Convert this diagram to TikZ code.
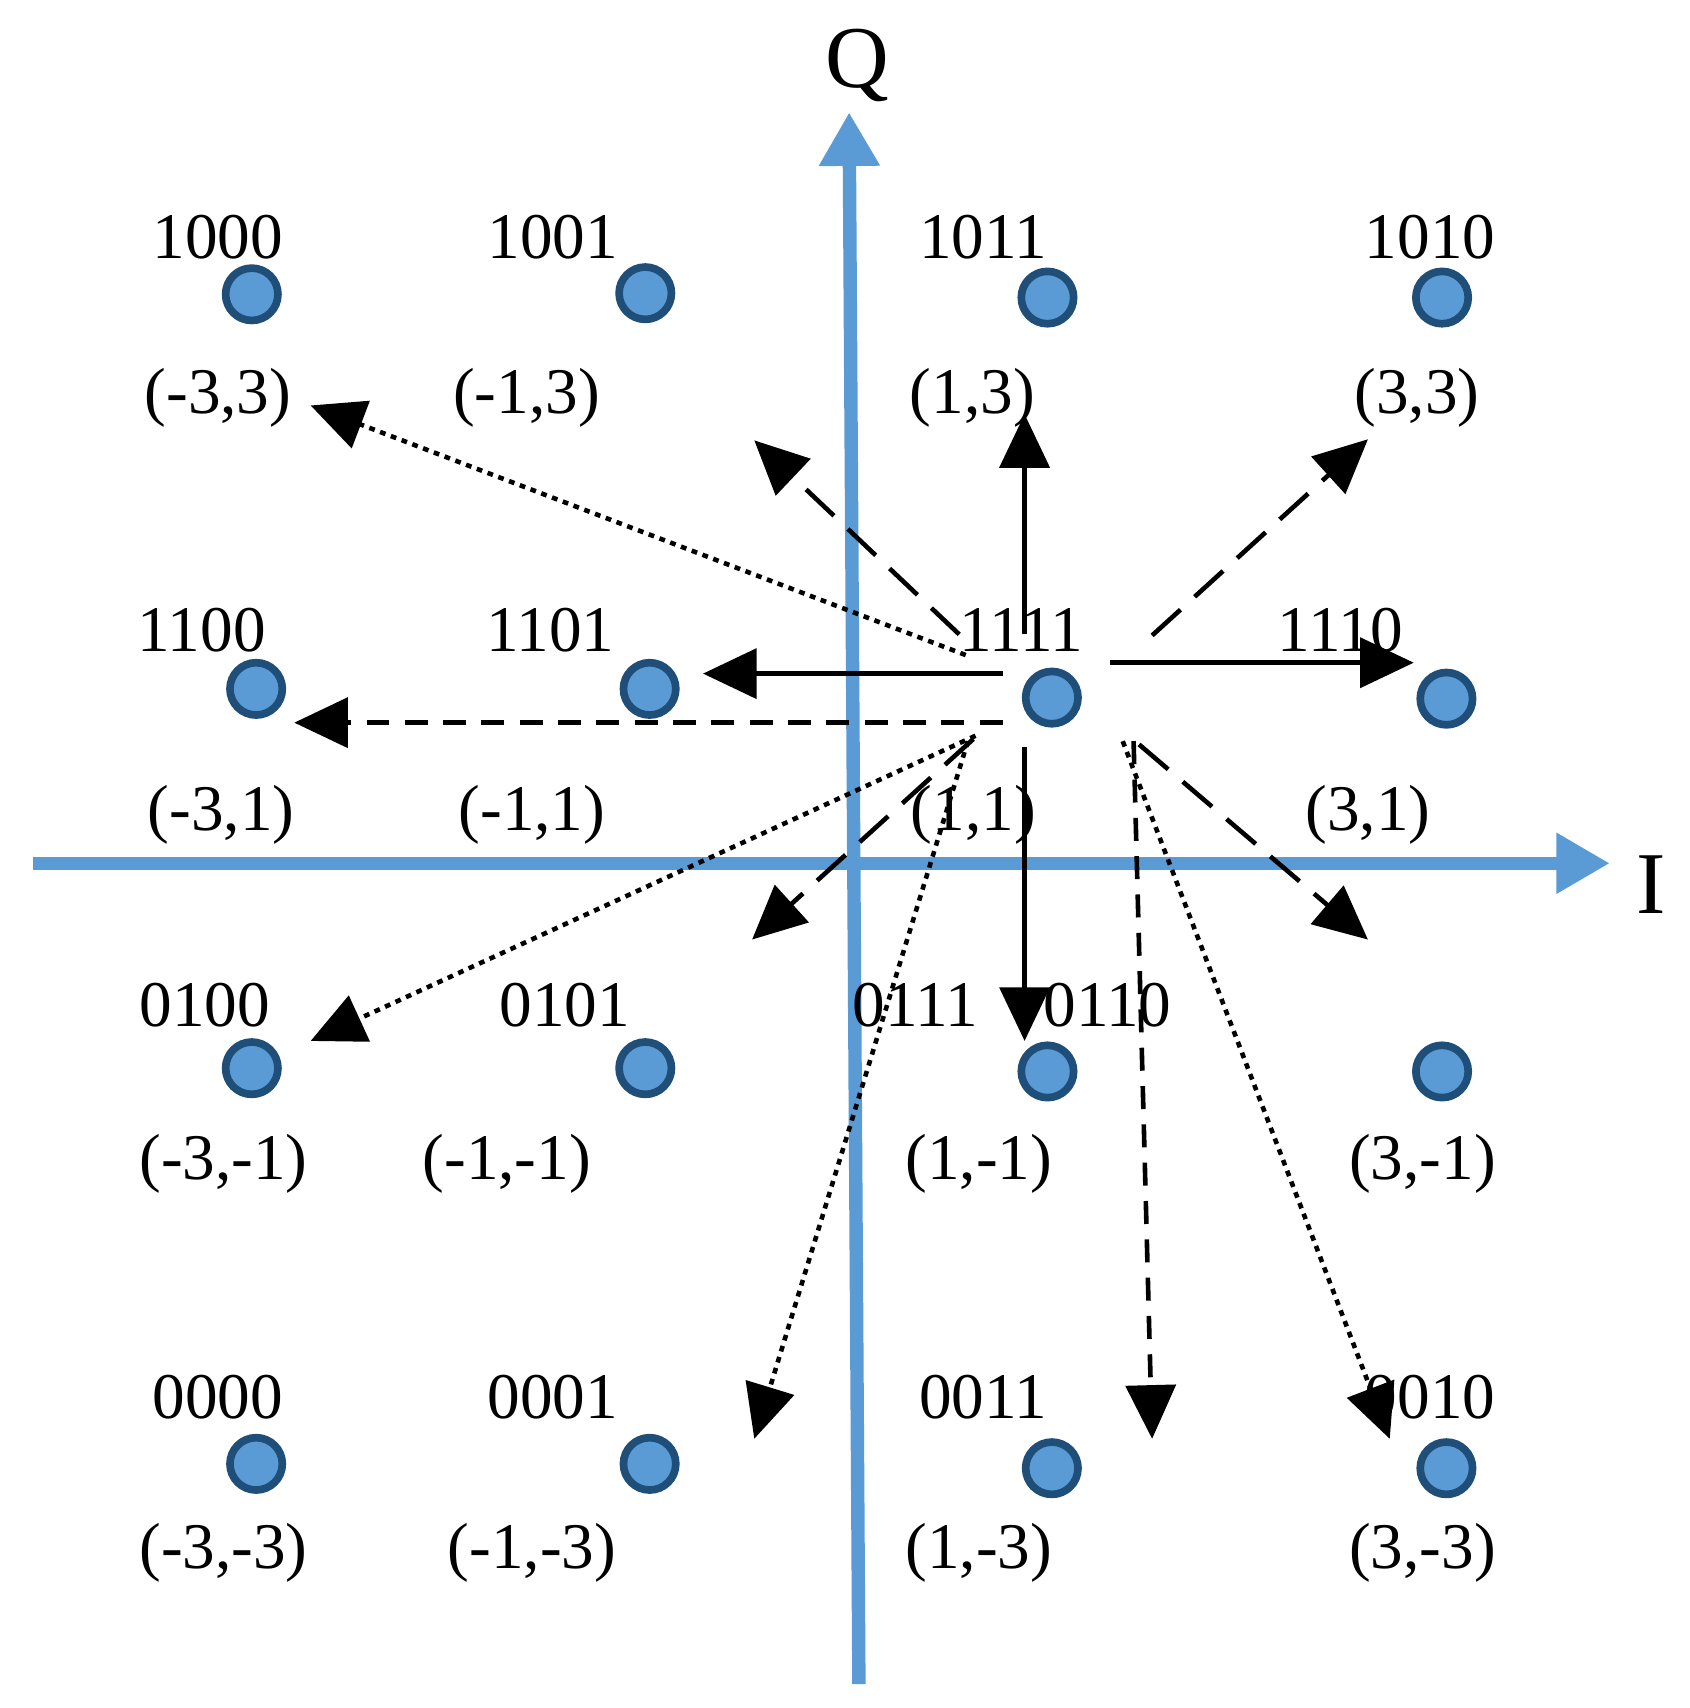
\documentclass[tikz,border=0pt]{standalone}
\usepackage{fontspec}
\setmainfont{Liberation Serif}
\usetikzlibrary{arrows.meta}
\definecolor{ax}{HTML}{5B9BD5}
\definecolor{dk}{HTML}{1F4E79}
\begin{document}
\begin{tikzpicture}[x=0.01cm,y=-0.01cm,
  pt/.style={circle,fill=ax,draw=dk,line width=2pt,minimum size=0.48cm,inner sep=0pt},
  lb/.style={font=\fontsize{17}{17}\selectfont,inner sep=0pt},
  arr/.style={line width=1.2pt,-{Triangle[length=14pt,width=13pt]}},
  ld/.style={arr,dash pattern=on 10pt off 5pt},
  sd/.style={arr,dash pattern=on 6pt off 4pt},
  dt/.style={arr,dash pattern=on 1.5pt off 1.5pt}]
\useasboundingbox (0,0) rectangle (1550,1567);
\coordinate (xs) at (30,792); \coordinate (xe) at (1477,792);
\coordinate (ys) at (788,1545); \coordinate (ye) at (779,103);
\draw[ax,line width=3.5pt,-{Triangle[length=14pt,width=15pt]}] (xs) -- (xe);
\draw[ax,line width=3.5pt,-{Triangle[length=14pt,width=15pt]}] (ys) -- (ye);
\node[font=\fontsize{23}{23}\selectfont] (Q) at (787,60) {Q};
\node[font=\fontsize{23}{23}\selectfont] (I) at (1515,812) {I};
% points
\node[pt] (p1) at (231,270) {}; \node[pt] (p2) at (592,269) {}; \node[pt] (p3) at (961,273) {}; \node[pt] (p4) at (1323,273) {};
\node[pt] (p5) at (235,632) {}; \node[pt] (p6) at (596,632) {}; \node[pt] (p7) at (965,640) {}; \node[pt] (p8) at (1327,641) {};
\node[pt] (p9) at (231,980) {}; \node[pt] (p10) at (592,980) {}; \node[pt] (p11) at (961,983) {}; \node[pt] (p12) at (1323,983) {};
\node[pt] (p13) at (235,1343) {}; \node[pt] (p14) at (596,1343) {}; \node[pt] (p15) at (965,1347) {}; \node[pt] (p16) at (1327,1347) {};
% bit labels
\node[lb] (b1) at (200,218) {1000}; \node[lb] (b2) at (507,218) {1001}; \node[lb] (b3) at (902,218) {1011}; \node[lb] (b4) at (1312,218) {1010};
\node[lb] (b5) at (185,578) {1100}; \node[lb] (b6) at (505,578) {1101}; \node[lb] (b7) at (937,578) {1111}; \node[lb] (b8) at (1230,578) {1110};
\node[lb] (b9) at (188,922) {0100}; \node[lb] (b10) at (518,922) {0101}; \node[lb] (b11) at (840,922) {0111}; \node[lb] (b12) at (1016,922) {0110};
\node[lb] (b13) at (200,1282) {0000}; \node[lb] (b14) at (507,1282) {0001}; \node[lb] (b15) at (902,1282) {0011}; \node[lb] (b16) at (1312,1282) {0010};
% coords
\node[lb] (c1) at (200,365) {(-3,3)}; \node[lb] (c2) at (483,365) {(-1,3)}; \node[lb] (c3) at (892,365) {(1,3)}; \node[lb] (c4) at (1300,365) {(3,3)};
\node[lb] (c5) at (203,748) {(-3,1)}; \node[lb] (c6) at (488,748) {(-1,1)}; \node[lb] (c7) at (893,748) {(1,1)}; \node[lb] (c8) at (1255,748) {(3,1)};
\node[lb] (c9) at (205,1068) {(-3,-1)}; \node[lb] (c10) at (465,1068) {(-1,-1)}; \node[lb] (c11) at (898,1068) {(1,-1)}; \node[lb] (c12) at (1305,1068) {(3,-1)};
\node[lb] (c13) at (205,1425) {(-3,-3)}; \node[lb] (c14) at (488,1425) {(-1,-3)}; \node[lb] (c15) at (898,1425) {(1,-3)}; \node[lb] (c16) at (1305,1425) {(3,-3)};
% arrow endpoints
\coordinate (s1) at (940,582); \coordinate (e1) at (940,380);
\coordinate (s2) at (920,618); \coordinate (e2) at (645,618);
\coordinate (s3) at (1018,608); \coordinate (e3) at (1297,608);
\coordinate (s4) at (940,685); \coordinate (e4) at (940,955);
\coordinate (s5) at (880,582); \coordinate (e5) at (692,404);
\coordinate (s6) at (1057,583); \coordinate (e6) at (1255,403);
\coordinate (s7) at (893,678); \coordinate (e7) at (690,862);
\coordinate (s8) at (1045,683); \coordinate (e8) at (1255,862);
\coordinate (s9) at (920,663); \coordinate (e9) at (270,663);
\coordinate (s10) at (1040,680); \coordinate (e10) at (1057,1320);
\coordinate (s11) at (886,601); \coordinate (e11) at (285,372);
\coordinate (s12) at (895,675); \coordinate (e12) at (285,955);
\coordinate (s13) at (888,680); \coordinate (e13) at (692,1320);
\coordinate (s14) at (1030,680); \coordinate (e14) at (1275,1320);
\draw[arr] (s1) -- (e1); \draw[arr] (s2) -- (e2); \draw[arr] (s3) -- (e3); \draw[arr] (s4) -- (e4);
\draw[ld] (s5) -- (e5); \draw[ld] (s6) -- (e6); \draw[ld] (s7) -- (e7); \draw[ld] (s8) -- (e8);
\draw[sd] (s9) -- (e9); \draw[sd] (s10) -- (e10);
\draw[dt] (s11) -- (e11); \draw[dt] (s12) -- (e12); \draw[dt] (s13) -- (e13); \draw[dt] (s14) -- (e14);
\end{tikzpicture}
\end{document}
